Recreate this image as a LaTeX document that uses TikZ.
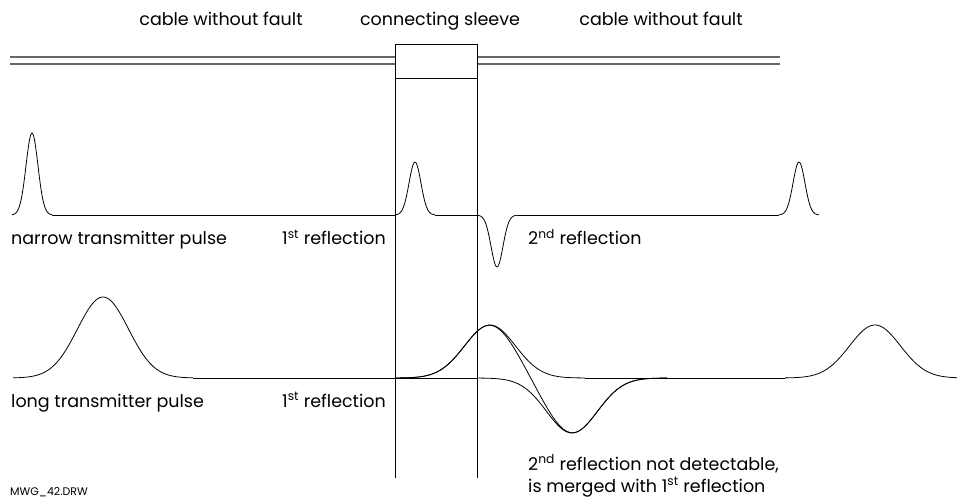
\documentclass[tikz,border=0pt]{standalone}
\usepackage{fontspec}
\setmainfont{Poppins}
\usepackage{tikz}

\begin{document}
\begin{tikzpicture}[x=1pt,y=-1pt,
  wave/.style={line width=0.8pt,smooth},
  cable/.style={line width=1.2pt,black!60},
  sleeve/.style={line width=0.8pt},
  txt/.style={anchor=base west,inner sep=0pt,font=\fontsize{17.5}{20}\selectfont},
  head/.style={anchor=base,inner sep=0pt,font=\fontsize{17.5}{20}\selectfont}]
\useasboundingbox (0,0) rectangle (957,502);

% cable with sleeve
\draw[cable] (10,57) -- (395,57);
\draw[cable] (10,64) -- (395,64);
\draw[cable] (477,57) -- (780,57);
\draw[cable] (477,64) -- (780,64);
\draw[sleeve] (395,478) -- (395,44) -- (477,44) -- (477,478);
\draw[sleeve] (395,78) -- (477,78);

\node[head] (cableL) at (221,26) {cable without fault};
\node[head] (sleeve) at (440,26) {connecting sleeve};
\node[head] (cableR) at (661,26) {cable without fault};

% narrow pulse
\draw[wave,domain=12:52,samples=41,variable=\x] plot ({\x},{215-82*exp(0-((\x-32)/8.4)^2)});
\draw[wave] (52,215) -- (395,215);
\draw[wave,domain=395:435,samples=41,variable=\x] plot ({\x},{215-53*exp(0-((\x-415)/8.4)^2)});
\draw[wave] (435,215) -- (477,215);
\draw[wave,domain=477:517,samples=41,variable=\x] plot ({\x},{215+52*exp(0-((\x-497)/8.4)^2)});
\draw[wave] (517,215) -- (779,215);
\draw[wave,domain=779:819,samples=41,variable=\x] plot ({\x},{215-53*exp(0-((\x-799)/8.4)^2)});

\node[txt] (narrow) at (11,245) {narrow transmitter pulse};
\node[txt] (refA) at (282,245) {1\textsuperscript{st} reflection};
\node[txt] (refB) at (528,245) {2\textsuperscript{nd} reflection};

% long pulse
\draw[wave,domain=13:193,samples=91,variable=\x] plot ({\x},{378-81*exp(0-((\x-103)/36)^2)});
\draw[wave] (193,378) -- (477,378);
\draw[wave,domain=395:585,samples=96,variable=\x] plot ({\x},{378-53*exp(0-((\x-490)/36)^2)});
\draw[wave,domain=477:667,samples=96,variable=\x] plot ({\x},{378+55*exp(0-((\x-572)/36)^2)});
\draw[wave,domain=395:667,samples=137,variable=\x] plot ({\x},{378-53*exp(0-((\x-490)/36)^2)+55*exp(0-((\x-572)/36)^2)});
\draw[wave] (585,378) -- (785,378);
\draw[wave,domain=785:957,samples=87,variable=\x] plot ({\x},{378-53*exp(0-((\x-875)/36)^2)});

\node[txt] (long) at (11,407) {long transmitter pulse};
\node[txt] (refC) at (282,407) {1\textsuperscript{st} reflection};
\node[txt] (merge1) at (528,470) {2\textsuperscript{nd} reflection not detectable,};
\node[txt] (merge2) at (528,492) {is merged with 1\textsuperscript{st} reflection};

\node[txt,font=\fontsize{11}{13}\selectfont] (drw) at (10,495) {MWG\_42.DRW};

\end{tikzpicture}
\end{document}
